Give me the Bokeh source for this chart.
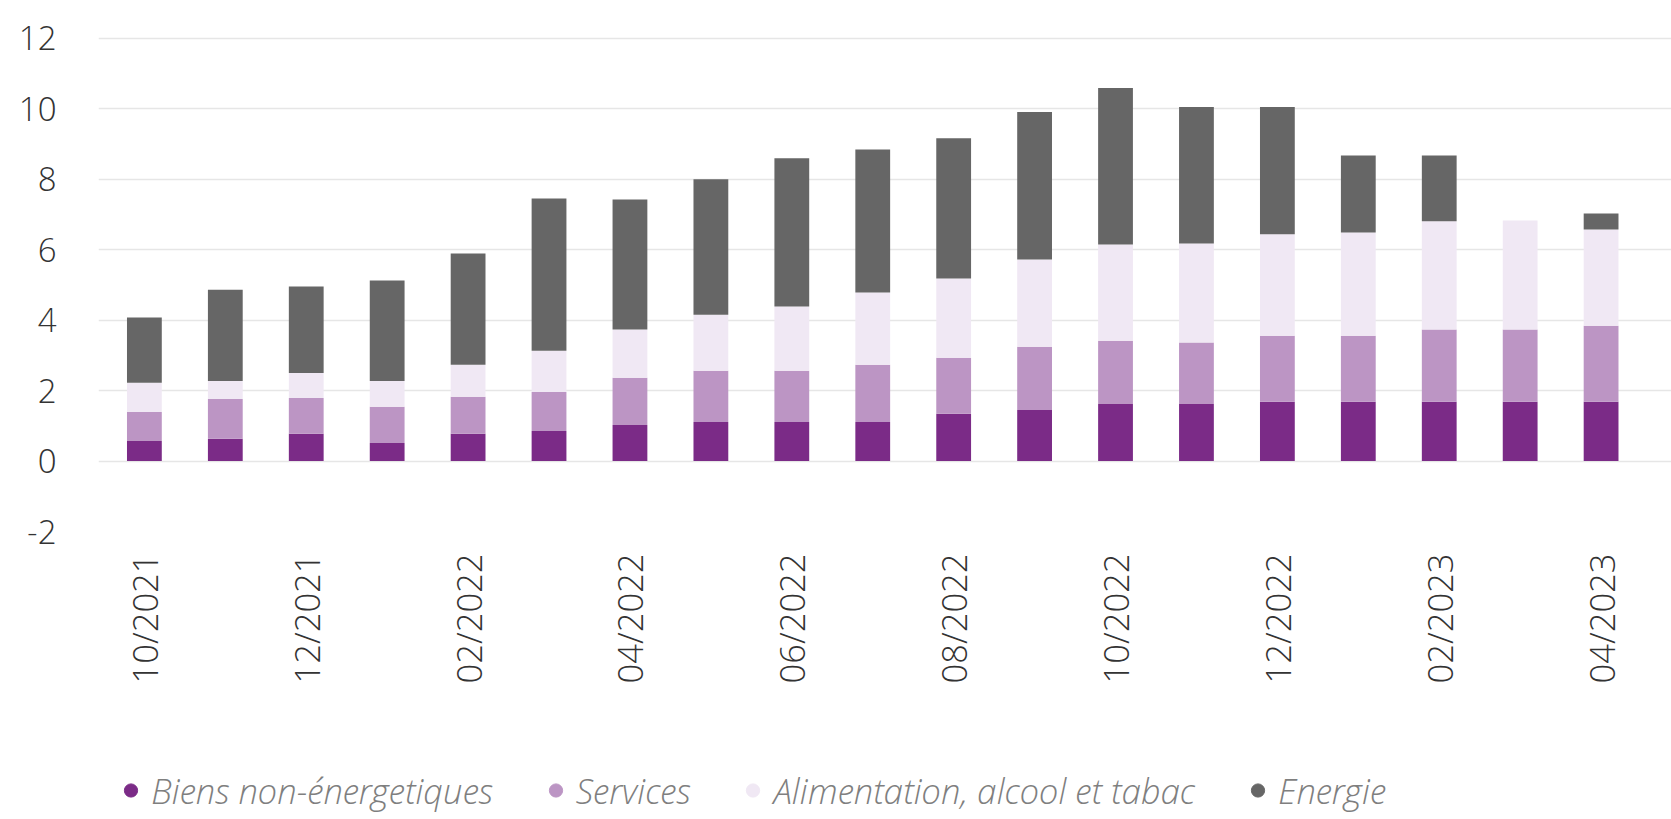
import math
from bokeh.plotting import figure
from bokeh.layouts import column
from bokeh.models import Range1d, FixedTicker, Legend, LegendItem, ColumnDataSource
from bokeh.embed import file_html
from bokeh.resources import INLINE

months = ["10/2021", "11/2021", "12/2021", "01/2022", "02/2022", "03/2022", "04/2022",
          "05/2022", "06/2022", "07/2022", "08/2022", "09/2022", "10/2022", "11/2022",
          "12/2022", "01/2023", "02/2023", "03/2023", "04/2023"]
biens = [0.57, 0.63, 0.77, 0.51, 0.77, 0.85, 1.02, 1.11, 1.11, 1.11, 1.34, 1.45, 1.62, 1.62,
         1.68, 1.68, 1.68, 1.68, 1.68]
services = [0.82, 1.13, 1.02, 1.03, 1.05, 1.11, 1.34, 1.45, 1.45, 1.62, 1.59, 1.79, 1.79, 1.74,
            1.87, 1.87, 2.05, 2.05, 2.16]
alimentation = [0.83, 0.51, 0.71, 0.73, 0.91, 1.17, 1.37, 1.59, 1.82, 2.05, 2.25, 2.48, 2.73, 2.81,
                2.88, 2.93, 3.07, 3.09, 2.73]
energie = [1.85, 2.59, 2.45, 2.85, 3.16, 4.32, 3.69, 3.84, 4.21, 4.06, 3.98, 4.18, 4.44, 3.87,
           3.61, 2.19, 1.87, 0.0, 0.45]
series_names = ["Biens non-énergetiques", "Services", "Alimentation, alcool et tabac", "Energie"]
colors = ["#7B2B87", "#BC95C4", "#F0E8F4", "#666666"]
y_ticks = [-2, 0, 2, 4, 6, 8, 10, 12]
y_labels = ["-2", "0", "2", "4", "6", "8", "10", "12"]

FONT = "'Open Sans Light', 'Open Sans'"

src = ColumnDataSource(dict(x=list(range(len(months))), biens=biens, services=services,
                            alimentation=alimentation, energie=energie))

p = figure(width=1671, height=760, output_backend="svg", toolbar_location=None,
           x_range=Range1d(-0.567, 18.87), y_range=Range1d(-2, 12.1),
           min_border_left=98, min_border_right=0, min_border_top=34, min_border_bottom=229)
p.outline_line_color = None
p.background_fill_color = "white"
p.border_fill_color = "white"

p.vbar_stack(["biens", "services", "alimentation", "energie"], x="x", width=0.43,
             color=colors, line_color=None, source=src)

# y axis
p.yaxis.ticker = FixedTicker(ticks=y_ticks)
p.yaxis.major_label_overrides = {t: l for t, l in zip(y_ticks, y_labels)}
p.yaxis.axis_line_color = None
p.yaxis.major_tick_line_color = None
p.yaxis.minor_tick_line_color = None
p.yaxis.major_label_standoff = 36
p.yaxis.major_label_text_font = FONT
p.yaxis.major_label_text_font_size = "33px"
p.yaxis.major_label_text_color = "#333333"

# x axis
even = list(range(0, len(months), 2))
p.xaxis.ticker = FixedTicker(ticks=even)
p.xaxis.major_label_overrides = {i: months[i] for i in even}
p.xaxis.major_label_orientation = math.pi / 2
p.xaxis.axis_line_color = None
p.xaxis.major_tick_line_color = None
p.xaxis.minor_tick_line_color = None
p.xaxis.major_label_standoff = 16
p.xaxis.major_label_text_font = FONT
p.xaxis.major_label_text_font_size = "34.5px"
p.xaxis.major_label_text_color = "#333333"

# grid
p.xgrid.grid_line_color = None
p.ygrid.ticker = FixedTicker(ticks=y_ticks)
p.ygrid.grid_line_color = "#E6E6E6"
p.ygrid.grid_line_width = 1.5
p.ygrid.bounds = (0, 12)

# legend strip (its own figure, only holding the legend)
lg = figure(width=1671, height=59, output_backend="svg", toolbar_location=None,
            x_range=Range1d(0, 1), y_range=Range1d(0, 1), x_axis_type=None, y_axis_type=None,
            min_border=0)
lg.outline_line_color = None
lg.grid.visible = False
items = []
for name, c in zip(series_names, colors):
    # proxy renderer (NaN point, never drawn) that only provides the round legend marker
    r = lg.scatter(x=[float("nan")], y=[float("nan")], marker="circle", size=13,
                   fill_color=c, line_color=c)
    items.append(LegendItem(label=name, renderers=[r]))
legend = Legend(items=items, orientation="horizontal", location="left",
                label_text_font=FONT, label_text_font_style="italic",
                label_text_font_size="35px", label_text_color="#7F7F7F",
                glyph_width=33, glyph_height=33, label_standoff=4, spacing=46,
                padding=0, margin=16, border_line_color=None, background_fill_alpha=0)
lg.add_layout(legend, "center")

layout = column(p, lg, spacing=0)
open("out.html", "w").write(file_html(layout, INLINE))
